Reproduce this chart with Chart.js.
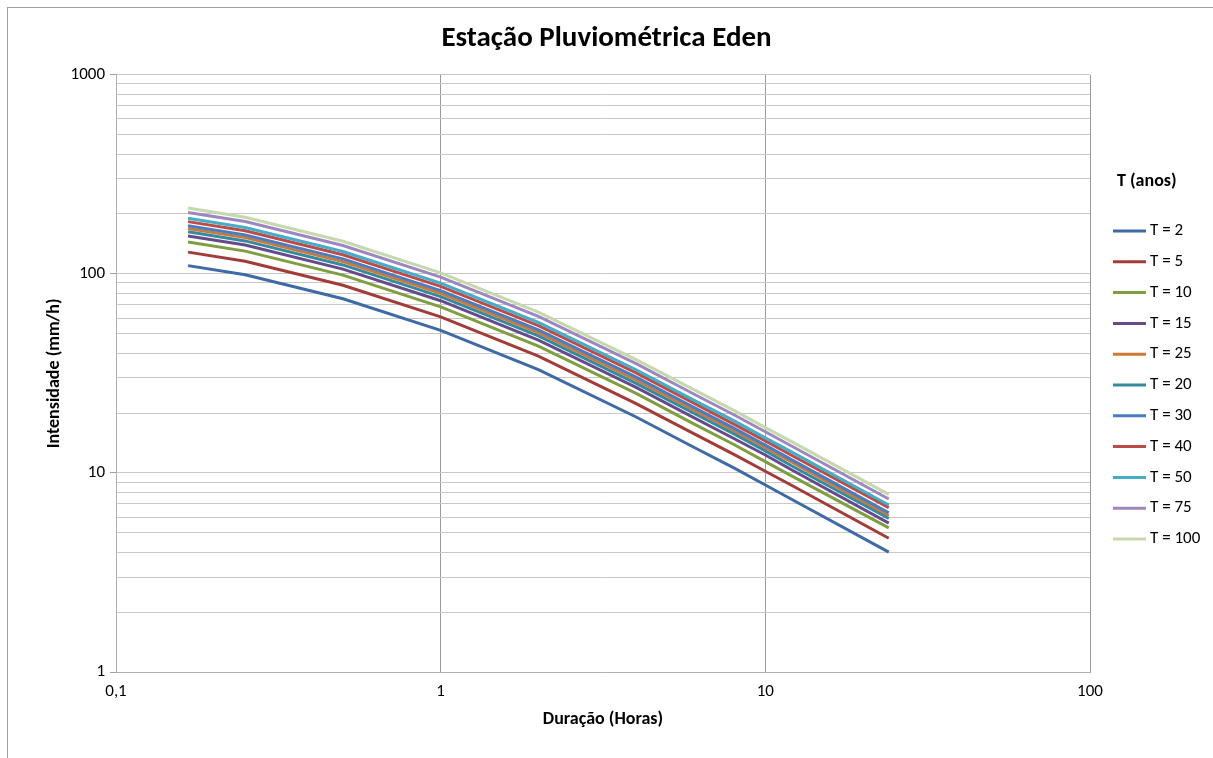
<!DOCTYPE html>
<html lang="pt">
<head>
<meta charset="utf-8">
<title>Estação Pluviométrica Eden</title>
<script src="https://cdn.jsdelivr.net/npm/chart.js@4.4.1/dist/chart.umd.min.js"></script>
<style>
  html, body { margin: 0; padding: 0; background: #fff; }
  #wrap { position: relative; width: 1213px; height: 758px; overflow: hidden; }
  #frame { position: absolute; left: 7px; top: 7px; right: -2px; bottom: -2px;
           border-left: 1px solid #a0a0a0; border-top: 1px solid #a0a0a0; }
  canvas { position: absolute; left: 0; top: 0; }
</style>
</head>
<body>
<div id="wrap">
  <div id="frame"></div>
  <canvas id="chart" width="1213" height="758"></canvas>
</div>
<script>
// durations (hours) and intensities (mm/h)
const durations = [0.1667, 0.25, 0.5, 1, 2, 4, 6, 8, 10, 12, 24];

const seriesNames = ['T = 2', 'T = 5', 'T = 10', 'T = 15', 'T = 25', 'T = 20',
                     'T = 30', 'T = 40', 'T = 50', 'T = 75', 'T = 100'];

const t2   = [110.0,  99.0,  75.0,  52.0, 33.0, 19.1, 13.5, 10.6,  8.7,  7.4, 4.0];
const t5   = [128.6, 115.7,  87.7,  60.8, 38.6, 22.3, 15.8, 12.4, 10.2,  8.7, 4.7];
const t10  = [144.5, 130.1,  98.6,  68.3, 43.4, 25.1, 17.7, 13.9, 11.4,  9.7, 5.3];
const t15  = [155.0, 139.5, 105.7,  73.3, 46.5, 26.9, 19.0, 14.9, 12.3, 10.4, 5.6];
const t25  = [169.0, 152.1, 115.2,  79.9, 50.7, 29.3, 20.7, 16.3, 13.4, 11.4, 6.1];
const t20  = [162.7, 146.4, 110.9,  76.9, 48.8, 28.2, 20.0, 15.7, 12.9, 10.9, 5.9];
const t30  = [174.4, 156.9, 118.9,  82.4, 52.3, 30.3, 21.4, 16.8, 13.8, 11.7, 6.3];
const t40  = [183.0, 164.7, 124.8,  86.5, 54.9, 31.8, 22.5, 17.6, 14.5, 12.3, 6.7];
const t50  = [190.1, 171.1, 129.6,  89.9, 57.0, 33.0, 23.3, 18.3, 15.0, 12.8, 6.9];
const t75  = [203.6, 183.2, 138.8,  96.3, 61.1, 35.4, 25.0, 19.6, 16.1, 13.7, 7.4];
const t100 = [214.0, 192.6, 145.9, 101.1, 64.2, 37.1, 26.3, 20.6, 16.9, 14.4, 7.8];

const seriesValues = [t2, t5, t10, t15, t25, t20, t30, t40, t50, t75, t100];

const seriesColors = ['#3e6aa6', '#a33c38', '#7f9e41', '#654b8a', '#cc7a35', '#358aa0',
                      '#4a7dc0', '#bd4b48', '#45adc8', '#9d87be', '#c5d8ae'];

const xTicks = [0.1, 1, 10, 100];
const yTicks = [1, 2, 3, 4, 5, 6, 7, 8, 9,
                10, 20, 30, 40, 50, 60, 70, 80, 90,
                100, 200, 300, 400, 500, 600, 700, 800, 900, 1000];
const yLabelled = [1, 10, 100, 1000];

const fam = "Carlito, Calibri, 'Liberation Sans', Arial, sans-serif";

const datasets = seriesNames.map((name, i) => ({
  label: name,
  data: durations.map((d, j) => ({ x: d, y: seriesValues[i][j] })),
  borderColor: seriesColors[i],
  backgroundColor: seriesColors[i],
  borderWidth: 3,
  pointRadius: 0,
  tension: 0,
  fill: false,
  order: seriesNames.length - i   // later series drawn on top, like Excel
}));

// legend on the right, Excel style
const sideLegend = {
  id: 'sideLegend',
  afterDraw(chart) {
    const ctx = chart.ctx;
    const x0 = chart.chartArea.right + 23;
    ctx.save();
    ctx.textBaseline = 'middle';
    ctx.fillStyle = '#000';
    ctx.font = 'bold 18px ' + fam;
    ctx.fillText('T (anos)', x0 + 4, 181);
    ctx.font = '17px ' + fam;
    chart.data.datasets.forEach((ds, i) => {
      const y = 231 + i * 30.8;
      ctx.strokeStyle = ds.borderColor;
      ctx.lineWidth = 3;
      ctx.beginPath();
      ctx.moveTo(x0, y);
      ctx.lineTo(x0 + 33, y);
      ctx.stroke();
      ctx.fillText(ds.label, x0 + 37, y);
    });
    ctx.restore();
  }
};

new Chart(document.getElementById('chart'), {
  type: 'line',
  data: { datasets },
  plugins: [sideLegend],
  options: {
    responsive: false,
    animation: false,
    layout: { padding: 0 },
    plugins: {
      legend: { display: false },
      tooltip: { enabled: false },
      title: {
        display: true,
        text: 'Estação Pluviométrica Eden',
        color: '#000',
        font: { family: fam, size: 29, weight: 'bold' },
        padding: { top: 21, bottom: 19 }
      }
    },
    scales: {
      x: {
        type: 'logarithmic',
        min: 0.1,
        max: 100,
        afterBuildTicks: (scale) => { scale.ticks = xTicks.map(v => ({ value: v })); },
        afterFit: (scale) => { scale.height = 86; },
        ticks: {
          autoSkip: false,
          maxRotation: 0,
          padding: 10,
          color: '#000',
          font: { family: fam, size: 17 },
          callback: (v) => String(v).replace('.', ',')
        },
        grid: { color: '#9a9a9a', lineWidth: 1, drawTicks: false },
        border: { display: true, color: '#b0b0b0' },
        title: {
          display: true,
          text: 'Duração (Horas)',
          color: '#000',
          font: { family: fam, size: 18, weight: 'bold' },
          padding: { top: 0, bottom: 28 }
        }
      },
      y: {
        type: 'logarithmic',
        min: 1,
        max: 1000,
        afterBuildTicks: (scale) => { scale.ticks = yTicks.map(v => ({ value: v })); },
        afterFit: (scale) => { scale.width = 116; },
        ticks: {
          autoSkip: false,
          padding: 5,
          color: '#000',
          font: { family: fam, size: 17 },
          callback: (v) => yLabelled.includes(v) ? String(v) : ''
        },
        grid: {
          color: '#c8c8c8',
          lineWidth: 1,
          tickLength: 6,
          tickColor: (c) => (c.tick && yLabelled.includes(c.tick.value)) ? '#a0a0a0' : 'rgba(0,0,0,0)'
        },
        border: { display: true, color: '#b0b0b0' },
        title: {
          display: true,
          text: 'Intensidade (mm/h)',
          color: '#000',
          font: { family: fam, size: 18, weight: 'bold' },
          padding: { top: 44, bottom: 0 }
        }
      },
      // empty axis that only reserves the legend space on the right
      legendSpace: {
        type: 'linear',
        position: 'right',
        display: true,
        grid: { display: false, drawTicks: false },
        border: { display: false },
        ticks: { display: false },
        afterFit: (scale) => { scale.width = 123; }
      }
    }
  }
});
</script>
</body>
</html>
